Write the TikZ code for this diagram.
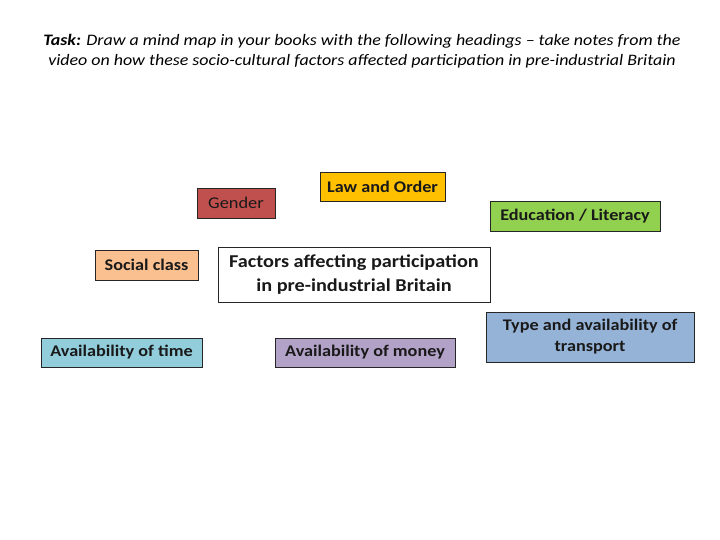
\documentclass[tikz,border=0pt]{standalone}
\usepackage{fontspec}
\setmainfont{Carlito}[FakeStretch=1.12]
\definecolor{cgender}{HTML}{C0504D}
\definecolor{claw}{HTML}{FFC000}
\definecolor{cedu}{HTML}{92D050}
\definecolor{csocial}{HTML}{FAC090}
\definecolor{ctime}{HTML}{92CDDC}
\definecolor{cmoney}{HTML}{B3A2C7}
\definecolor{ctrans}{HTML}{95B3D7}
\tikzset{
  factor/.style={draw=black!85, line width=0.8pt, inner sep=0pt, align=center, font=\fontsize{16.25}{21}\selectfont\bfseries, text=black!90},
}
\begin{document}
\begin{tikzpicture}[x=1pt,y=-1pt]
\useasboundingbox[fill=white] (0,0) rectangle (720,540);
\node[font=\fontsize{16}{20}\selectfont\itshape, align=center] (title) at (362,51)
  {\textbf{Task:} Draw a mind map in your books with the following headings -- take notes from the\\video on how these socio-cultural factors affected participation in pre-industrial Britain};
\node[factor, fill=cgender, font=\fontsize{16.4}{20}\selectfont, minimum width=78pt, minimum height=30pt] (gender) at (236,203) {Gender};
\node[factor, fill=claw, minimum width=125pt, minimum height=29pt] (law) at (382.5,186.5) {Law and Order};
\node[factor, fill=cedu, minimum width=170pt, minimum height=30pt] (edu) at (575,216) {Education / Literacy};
\node[factor, fill=csocial, minimum width=103pt, minimum height=30pt] (social) at (146.5,265) {Social class};
\node[factor, fill=white, font=\fontsize{18.1}{24}\selectfont\bfseries, minimum width=272pt, minimum height=55pt] (center) at (354,274.5) {Factors affecting participation\\in pre-industrial Britain};
\node[factor, fill=ctime, minimum width=161pt, minimum height=29pt] (time) at (121.5,352.5) {Availability of time};
\node[factor, fill=cmoney, minimum width=180pt, minimum height=29pt] (money) at (365,352.5) {Availability of money};
\node[factor, fill=ctrans, minimum width=208pt, minimum height=50pt] (trans) at (590,337) {Type and availability of\\transport};
\end{tikzpicture}
\end{document}
